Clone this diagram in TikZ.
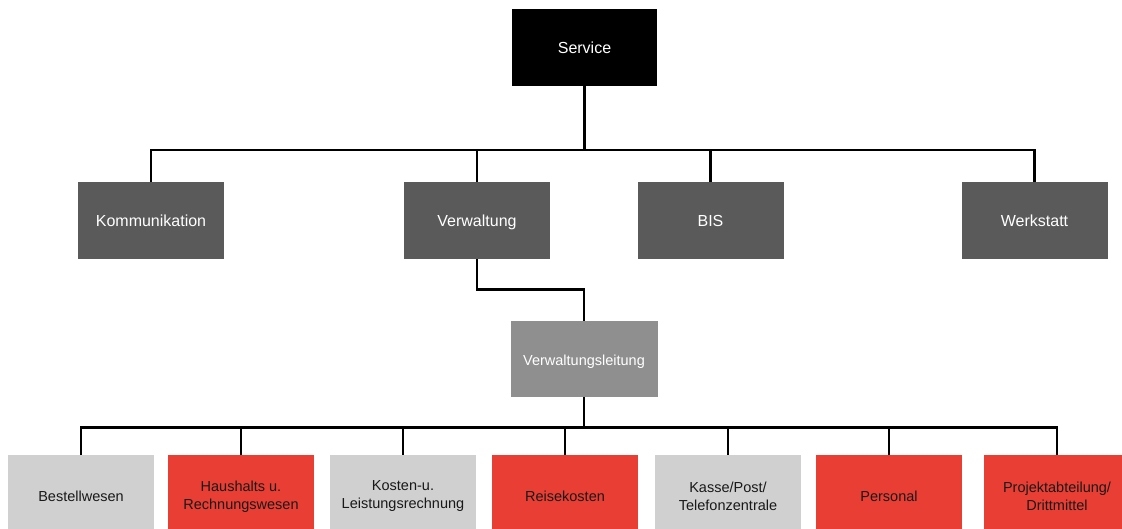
\documentclass[tikz,border=0pt]{standalone}
\usepackage{fontspec}
\setmainfont{Liberation Sans}
\definecolor{dunkel}{HTML}{5A5A5A}
\definecolor{mittel}{HTML}{8F8F8F}
\definecolor{hell}{HTML}{D0D0D0}
\definecolor{rot}{HTML}{E83E33}
\begin{document}
\begin{tikzpicture}[x=1pt,y=-1pt,
    box/.style={minimum width=146pt, minimum height=77pt, inner sep=0pt, align=center},
    top/.style={box, fill=dunkel, text=white, text height=12.5pt, text depth=0pt, font=\fontsize{16}{19}\selectfont},
    sub/.style={box, minimum height=83pt, text=black!90, font=\fontsize{14.5}{18}\selectfont},
    conn/.style={line width=2.6pt, black}]
            \useasboundingbox (0,0) rectangle (1122,528);

            \node[top, fill=black, minimum width=145pt] (serv) at (584.5,47.5) {Service};

            \node[top] (komm) at (151,220.5) {Kommunikation};
            \node[top] (verw) at (477,220.5) {Verwaltung};
            \node[top] (bis) at (710.5,220.5) {BIS};
            \node[top] (werk) at (1034.5,220.5) {Werkstatt};

            \node[box, fill=mittel, text=white, font=\fontsize{14.5}{18}\selectfont, text height=12.4pt, text depth=0pt, minimum width=147pt, minimum height=76pt] (leit) at (584,359) {Verwaltungsleitung};

            \node[sub, fill=hell] (best) at (81,496.5) {Bestellwesen};
            \node[sub, fill=rot] (haus) at (241,496.5) {Haushalts u.\\Rechnungswesen};
            \node[sub, fill=hell] (kost) at (403,496.5) {Kosten-u.\\Leistungsrechnung};
            \node[sub, fill=rot] (reis) at (565,496.5) {Reisekosten};
            \node[sub, fill=hell] (kass) at (728,496.5) {Kasse/Post/\\Telefonzentrale};
            \node[sub, fill=rot] (pers) at (889,496.5) {Personal};
            \node[sub, fill=rot] (proj) at (1057,496.5) {Projektabteilung/\\Drittmittel};

            \coordinate (bus1) at (584.5,150);
            \coordinate (bus2) at (584,427.5);

            \foreach \n in {komm,verw,bis,werk}
                \draw[conn] (serv.south) -- (bus1) -| (\n.north);
            \draw[conn] (verw.south) -- ++(0,30) -| (leit.north);
            \foreach \n in {best,haus,kost,reis,kass,pers,proj}
                \draw[conn] (leit.south) -- (bus2) -| (\n.north);
        \end{tikzpicture}
\end{document}
